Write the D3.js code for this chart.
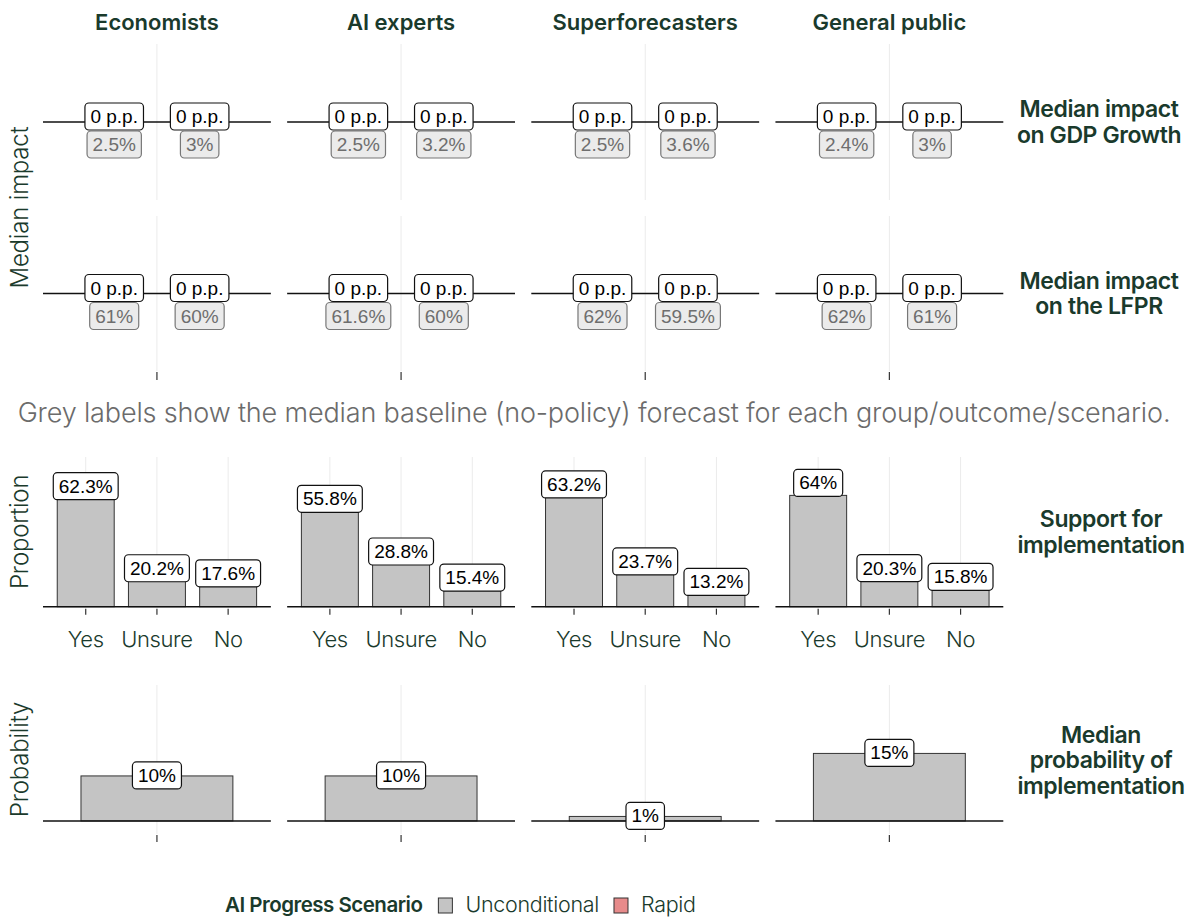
<!DOCTYPE html>
<html>
<head>
<meta charset="utf-8">
<script src="https://cdn.jsdelivr.net/npm/d3@7"></script>
<style>
  html, body { margin: 0; padding: 0; background: #ffffff; }
  svg { display: block; }
</style>
</head>
<body>
<div id="chart"></div>
<script>
// ---------------- DATA ----------------
const groups = ["Economists", "AI experts", "Superforecasters", "General public"];
const scenarios = ["Unconditional", "Rapid"];
const scenarioColors = ["#c4c4c4", "#e78b8b"];
const outcomeLabels = [["Median impact", "on GDP Growth"], ["Median impact", "on the LFPR"]];
// impact (p.p.) per group: [Unconditional, Rapid]
const gdpImpact = [[0, 0], [0, 0], [0, 0], [0, 0]];
const lfprImpact = [[0, 0], [0, 0], [0, 0], [0, 0]];
// baseline (no-policy) forecasts per group: [Unconditional, Rapid]
const gdpBaseline = [[2.5, 3], [2.5, 3.2], [2.5, 3.6], [2.4, 3]];
const lfprBaseline = [[61, 60], [61.6, 60], [62, 59.5], [62, 61]];
const supportCats = ["Yes", "Unsure", "No"];
const supportValues = [[62.3, 20.2, 17.6], [55.8, 28.8, 15.4], [63.2, 23.7, 13.2], [64, 20.3, 15.8]];
const probValues = [10, 10, 1, 15];
const captionText = "Grey labels show the median baseline (no-policy) forecast for each group/outcome/scenario.";

// ---------------- LAYOUT ----------------
const W = 1191, H = 918;
const GREEN = "#1a3a2c";
const TITLE_FONT = "Inter, 'Noto Sans', sans-serif";
const LABEL_FONT = "'Liberation Sans', Arial, sans-serif";

const svg = d3.select("#chart").append("svg").attr("width", W).attr("height", H);

const colScale = d3.scaleBand().domain(groups).range([43, 1003.3]).paddingInner(16.3 / 244.3).paddingOuter(0);
const panelW = colScale.bandwidth();

const rows = {
  gdp:  { top: 44,  bottom: 200 },
  lfpr: { top: 216, bottom: 371 },
  sup:  { top: 457, bottom: 606.7 },
  prob: { top: 685, bottom: 834 }
};

// within-panel scales
const xDodge = d3.scaleLinear().domain([0.4, 1.6]).range([0, panelW]);
const dodgeOffsets = [-0.225, 0.225];
const xSup = d3.scaleBand().domain(supportCats).range([0, panelW]).paddingInner(0.2).paddingOuter(0.2);
const xProb = d3.scaleBand().domain(["p"]).range([0, panelW]).paddingInner(0.2).paddingOuter(0.2);

const yImpact = r => d3.scaleLinear().domain([-1, 1]).range([r.bottom, r.top]);
const ySup = d3.scaleLinear().domain([6.88, 83.7]).range([rows.sup.bottom, rows.sup.top]);
const yProb = d3.scaleLinear().domain([-2.9, 30.2]).range([rows.prob.bottom, rows.prob.top]);

// label helper
function drawLabel(g, x, cy, text, opts) {
  const o = Object.assign({ fill: "#fff", stroke: "#111", color: "#000", size: 19, padX: 5.5 }, opts || {});
  const lg = g.append("g");
  const rect = lg.append("rect");
  const t = lg.append("text")
    .attr("x", x).attr("y", cy)
    .attr("text-anchor", "middle")
    .attr("dominant-baseline", "central")
    .style("font-family", LABEL_FONT)
    .style("font-size", o.size + "px")
    .attr("fill", o.color)
    .text(text);
  const w = t.node().getComputedTextLength() + 2 * o.padX;
  const h = 27;
  rect.attr("x", x - w / 2).attr("y", cy - h / 2).attr("width", w).attr("height", h)
    .attr("rx", 4).attr("ry", 4)
    .attr("fill", o.fill).attr("stroke", o.stroke).attr("stroke-width", 1.2);
}

function rowTitle(lines, cx, cy, spacing) {
  const t = svg.append("text").attr("x", cx).attr("text-anchor", "middle")
    .style("font-family", TITLE_FONT).style("font-weight", 600).style("font-size", "23px")
    .style("letter-spacing", "-0.4px").attr("fill", GREEN);
  lines.forEach((l, i) => {
    t.append("tspan").attr("x", cx).attr("y", cy + (i - (lines.length - 1) / 2) * spacing)
      .attr("dy", "0.35em").text(l);
  });
}

// ---------------- STRIP TITLES ----------------
svg.selectAll("text.strip").data(groups).join("text")
  .attr("class", "strip")
  .attr("x", d => colScale(d) + panelW / 2)
  .attr("y", 30)
  .attr("text-anchor", "middle")
  .style("font-family", TITLE_FONT).style("font-weight", 600).style("font-size", "22px")
  .style("letter-spacing", "0px")
  .attr("fill", GREEN)
  .text(d => d);

// ---------------- IMPACT ROWS ----------------
function impactRow(r, impacts, baselines, rowLabel, showTicks) {
  const y = yImpact(r);
  groups.forEach((gname, gi) => {
    const g = svg.append("g").attr("transform", `translate(${colScale(gname)},0)`);
    g.append("line").attr("x1", xDodge(1)).attr("x2", xDodge(1)).attr("y1", r.top).attr("y2", r.bottom)
      .attr("stroke", "#ebebeb").attr("stroke-width", 1);
    g.append("line").attr("x1", 0).attr("x2", panelW).attr("y1", y(0)).attr("y2", y(0))
      .attr("stroke", "#111").attr("stroke-width", 1.5);
    scenarios.forEach((s, si) => {
      const cx = xDodge(1 + dodgeOffsets[si]);
      drawLabel(g, cx, y(impacts[gi][si]) - 5.5, `${impacts[gi][si]} p.p.`);
      drawLabel(g, cx, y(0) + 22.5, `${baselines[gi][si]}%`, { fill: "#ebebeb", stroke: "#777", color: "#6e6e6e" });
    });
    if (showTicks) {
      g.append("line").attr("x1", xDodge(1)).attr("x2", xDodge(1)).attr("y1", r.bottom + 1).attr("y2", r.bottom + 9)
        .attr("stroke", "#333").attr("stroke-width", 1.2);
    }
  });
  rowTitle(rowLabel, 1099, (r.top + r.bottom) / 2, 25.5);
}
impactRow(rows.gdp, gdpImpact, gdpBaseline, outcomeLabels[0], false);
impactRow(rows.lfpr, lfprImpact, lfprBaseline, outcomeLabels[1], true);

// ---------------- CAPTION ----------------
svg.append("text").attr("x", 594).attr("y", 422).attr("text-anchor", "middle")
  .style("font-family", TITLE_FONT).style("font-weight", 300).style("font-size", "27px")
  .style("letter-spacing", "-0.15px")
  .attr("fill", "#6b6b6b").text(captionText);

// ---------------- SUPPORT ROW ----------------
groups.forEach((gname, gi) => {
  const g = svg.append("g").attr("transform", `translate(${colScale(gname)},0)`);
  supportCats.forEach(c => {
    const cx = xSup(c) + xSup.bandwidth() / 2;
    g.append("line").attr("x1", cx).attr("x2", cx).attr("y1", rows.sup.top).attr("y2", rows.sup.bottom)
      .attr("stroke", "#ebebeb").attr("stroke-width", 1);
  });
  g.selectAll("rect.bar").data(supportValues[gi]).join("rect")
    .attr("class", "bar")
    .attr("x", (d, i) => xSup(supportCats[i]))
    .attr("width", xSup.bandwidth())
    .attr("y", d => ySup(d))
    .attr("height", d => ySup(6.88) - ySup(d))
    .attr("fill", scenarioColors[0]).attr("stroke", "#333").attr("stroke-width", 1);
  g.append("line").attr("x1", 0).attr("x2", panelW).attr("y1", rows.sup.bottom).attr("y2", rows.sup.bottom)
    .attr("stroke", "#111").attr("stroke-width", 1.5);
  supportValues[gi].forEach((v, i) => {
    const cx = xSup(supportCats[i]) + xSup.bandwidth() / 2;
    drawLabel(g, cx, ySup(v) - 12.5, `${v}%`);
    g.append("line").attr("x1", cx).attr("x2", cx).attr("y1", rows.sup.bottom + 2).attr("y2", rows.sup.bottom + 8)
      .attr("stroke", "#333").attr("stroke-width", 1.2);
    g.append("text").attr("x", cx).attr("y", 647).attr("text-anchor", "middle")
      .style("font-family", TITLE_FONT).style("font-weight", 300).style("font-size", "22px")
      .style("letter-spacing", "-0.4px")
      .attr("fill", GREEN).text(supportCats[i]);
  });
});
rowTitle(["Support for", "implementation"], 1101, 532, 25.5);

// ---------------- PROBABILITY ROW ----------------
groups.forEach((gname, gi) => {
  const g = svg.append("g").attr("transform", `translate(${colScale(gname)},0)`);
  const cx = xProb("p") + xProb.bandwidth() / 2;
  g.append("line").attr("x1", cx).attr("x2", cx).attr("y1", rows.prob.top).attr("y2", rows.prob.bottom)
    .attr("stroke", "#ebebeb").attr("stroke-width", 1);
  g.append("rect")
    .attr("x", xProb("p")).attr("width", xProb.bandwidth())
    .attr("y", yProb(probValues[gi])).attr("height", yProb(0) - yProb(probValues[gi]))
    .attr("fill", scenarioColors[0]).attr("stroke", "#333").attr("stroke-width", 1);
  g.append("line").attr("x1", 0).attr("x2", panelW).attr("y1", yProb(0)).attr("y2", yProb(0))
    .attr("stroke", "#111").attr("stroke-width", 1.5);
  drawLabel(g, cx, yProb(probValues[gi]) - 0.5, `${probValues[gi]}%`);
  g.append("line").attr("x1", cx).attr("x2", cx).attr("y1", rows.prob.bottom + 1).attr("y2", rows.prob.bottom + 8)
    .attr("stroke", "#333").attr("stroke-width", 1.2);
});
rowTitle(["Median", "probability of", "implementation"], 1101, 760, 25.5);

// ---------------- Y AXIS TITLES ----------------
[["Median impact", (rows.gdp.top + rows.lfpr.bottom) / 2],
 ["Proportion", (rows.sup.top + rows.sup.bottom) / 2],
 ["Probability", (rows.prob.top + rows.prob.bottom) / 2]].forEach(([txt, cy]) => {
  svg.append("text").attr("transform", `translate(28,${cy}) rotate(-90)`)
    .attr("text-anchor", "middle")
    .style("font-family", TITLE_FONT).style("font-weight", 300).style("font-size", "24px")
    .style("letter-spacing", "-0.2px")
    .attr("fill", GREEN).text(txt);
});

// ---------------- LEGEND ----------------
{
  const lg = svg.append("g");
  const title = lg.append("text").attr("x", 225).attr("y", 912)
    .style("font-family", TITLE_FONT).style("font-weight", 600).style("font-size", "20.5px")
    .style("letter-spacing", "-0.5px")
    .attr("fill", GREEN).text("AI Progress Scenario");
  let x = 225 + title.node().getComputedTextLength() + 16;
  scenarios.forEach((s, i) => {
    lg.append("rect").attr("x", x).attr("y", 898).attr("width", 14).attr("height", 15)
      .attr("fill", scenarioColors[i]).attr("stroke", "#333").attr("stroke-width", 1);
    const t = lg.append("text").attr("x", x + 27).attr("y", 912)
      .style("font-family", TITLE_FONT).style("font-weight", 300).style("font-size", "21.5px")
      .style("letter-spacing", "-0.3px")
      .attr("fill", GREEN).text(s);
    x = x + 27 + t.node().getComputedTextLength() + 15;
  });
}
</script>
</body>
</html>
